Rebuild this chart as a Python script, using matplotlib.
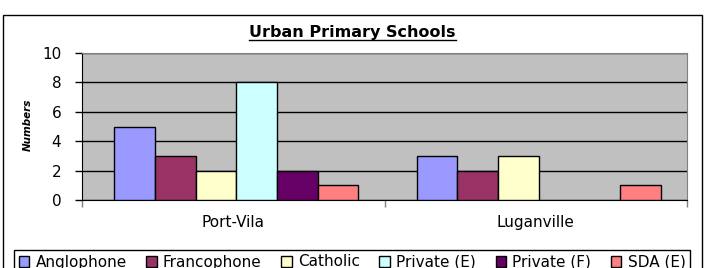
import numpy as np
import matplotlib
matplotlib.use("Agg")
import matplotlib.pyplot as plt
from matplotlib.patches import Rectangle
from matplotlib.lines import Line2D

# data
towns = ["Port-Vila", "Luganville"]
school_types = ["Anglophone", "Francophone", "Catholic", "Private (E)", "Private (F)", "SDA (E)"]
anglophone = [5, 3]
francophone = [3, 2]
catholic = [2, 3]
private_e = [8, 0]
private_f = [2, 0]
sda_e = [1, 1]
series = [anglophone, francophone, catholic, private_e, private_f, sda_e]
colours = ["#9999FF", "#993366", "#FFFFCC", "#CCFFFF", "#660066", "#FF8080"]
y_ticks = [0, 2, 4, 6, 8, 10]

plt.rcParams['font.family'] = ['DejaVu Sans']

W, H = 713, 268
fig = plt.figure(figsize=(W / 100, H / 100), dpi=100)

# outer chart frame
fig.patches.append(Rectangle((3 / W, -0.1), 699 / W, (H - 15) / H + 0.1,
                             transform=fig.transFigure, fill=False,
                             edgecolor="black", lw=1, zorder=0))

ax = fig.add_axes([82 / W, (H - 200) / H, 605 / W, 147 / H])
ax.set_facecolor("#C0C0C0")

x = np.arange(len(towns))
bw = 0.1345
for i, (vals, c, name) in enumerate(zip(series, colours, school_types)):
    offs = (i - 2.5) * bw + 0.01
    # zero values are simply not drawn
    xs = [xx + offs for xx, v in zip(x, vals) if v > 0]
    vs = [v for v in vals if v > 0]
    ax.bar(xs, vs, width=bw, color=c, edgecolor="black", linewidth=1,
           zorder=3, label=name)

ax.set_xlim(-0.5, 1.5)
ax.set_ylim(0, 10)
ax.set_yticks(y_ticks)
ax.yaxis.grid(True, color="black", linewidth=1, zorder=1)
ax.set_axisbelow(True)
ax.tick_params(axis="y", direction="out", length=5, width=1, pad=10,
               labelsize=11, color="black")

ax.set_xticks([-0.5, 0.5, 1.5])
ax.set_xticklabels([])
ax.tick_params(axis="x", which="major", direction="out", length=5, width=1,
               color="#808080")
ax.set_xticks(x, minor=True)
ax.set_xticklabels(towns, minor=True)
ax.tick_params(axis="x", which="minor", length=0, pad=11, labelsize=11)

for s in ["top", "right"]:
    ax.spines[s].set_color("#808080")
ax.spines["left"].set_color("black")
ax.spines["bottom"].set_color("black")

fig.text(28 / W, 1 - 125 / H, "Numbers", rotation=90, ha="center", va="center",
         fontsize=7.5, fontweight="bold", fontstyle="italic")

# title with underline
title = fig.text(352.5 / W, 1 - 33 / H, "Urban Primary Schools", ha="center",
                 va="center", fontsize=11.5, fontweight="bold")
fig.canvas.draw()
bb = title.get_window_extent()
fig.lines.append(Line2D([bb.x0 / W, bb.x1 / W], [(H - 40) / H, (H - 40) / H],
                        transform=fig.transFigure, color="black", lw=1))

leg = fig.legend(loc="center", ncol=6, mode="expand",
                 bbox_to_anchor=(14 / W, -5 / H, 676 / W, 22 / H),
                 fontsize=11, handlelength=0.7, handleheight=0.7,
                 handletextpad=0.4, borderaxespad=0, borderpad=0.3,
                 fancybox=False, framealpha=1, edgecolor="black")
leg.get_frame().set_linewidth(1)

fig.savefig("out.png", dpi=100)
